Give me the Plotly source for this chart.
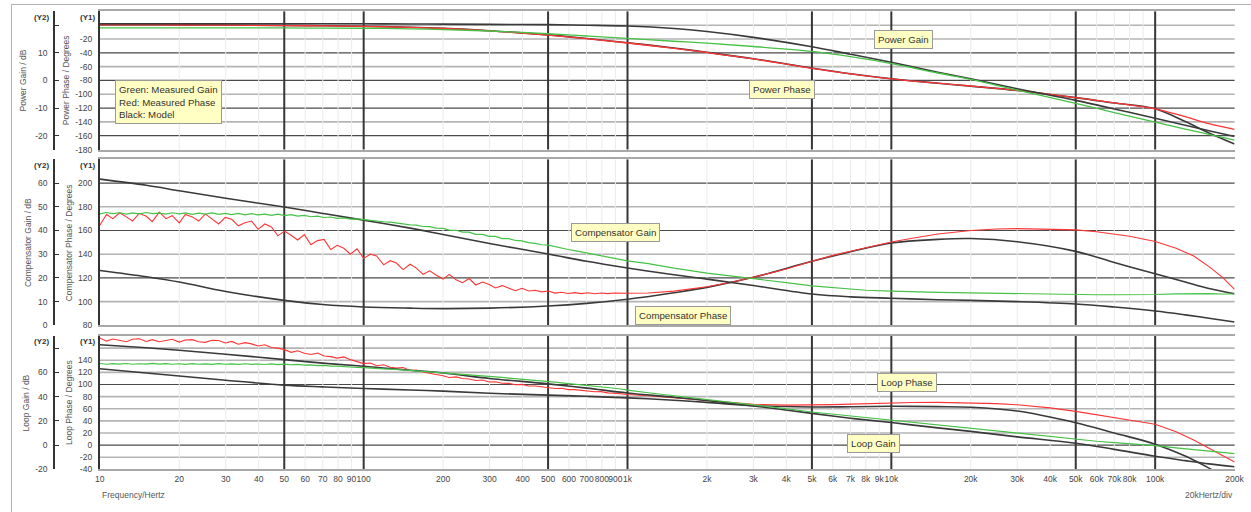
import math
import plotly.graph_objects as go

W, H = 1251, 512
FONT = "Liberation Sans, Arial, sans-serif"

# ---------------------------------------------------------------- data
# dense sweep points of the measurement (Hz), 10 Hz .. 1 kHz
FREQ_LO = [10, 10.6, 11.2, 11.9, 12.6, 13.3, 14.1, 15.0, 15.8, 16.8,
           17.8, 18.8, 20.0, 21.1, 22.4, 23.7, 25.1, 26.6, 28.2, 29.9,
           31.6, 33.5, 35.5, 37.6, 39.8, 42.2, 44.7, 47.3, 50.1, 53.1,
           56.2, 59.6, 63.1, 66.8, 70.8, 75.0, 79.4, 84.1, 89.1, 94.4,
           100, 106, 112, 119, 126, 133, 141, 150, 158, 168,
           178, 188, 200, 211, 224, 237, 251, 266, 282, 299,
           316, 335, 355, 376, 398, 422, 447, 473, 501, 531,
           562, 596, 631, 668, 708, 750, 794, 841, 891, 944,
           1000]
# sweep points above 1 kHz (Hz)
FREQ_HI = [1200, 1500, 2000, 2500, 3000, 4000, 5000, 6000, 7000, 8000,
           10000, 12000, 15000, 20000, 25000, 30000, 40000, 50000, 60000,
           70000, 80000, 100000, 120000, 140000, 160000, 180000, 200000]
# frequencies of the model curves and of the power-stage measurement (Hz)
MODEL_FREQ = [10, 15, 20, 30, 50, 70, 100, 150, 200, 300, 500, 700, 1000,
              1500, 2000, 3000, 5000, 7000, 10000, 15000, 20000, 30000,
              50000, 70000, 100000, 130000, 160000, 200000]

# Power stage (dB / degrees)
POWER_GAIN_MEAS = [19.0, 19.0, 19.0, 19.0, 19.0, 18.95, 18.9, 18.7, 18.4, 17.9,
                   16.9, 16.1, 15.2, 14.2, 13.5, 12.3, 10.5, 8.6, 6.1, 2.7,
                   0.4, -3.5, -8.3, -11.6, -15.1, -17.6, -19.5, -21.6]
POWER_GAIN_MODEL = [20.5, 20.5, 20.5, 20.5, 20.5, 20.5, 20.5, 20.45, 20.4, 20.3,
                    20.2, 20.0, 19.7, 18.8, 17.7, 15.6, 12.2, 9.5, 6.6, 3.0,
                    0.6, -3.0, -7.2, -10.3, -13.7, -16.2, -18.2, -20.3]
POWER_PHASE_MEAS = [0.6, 0.5, 0.3, 0.0, -0.5, -1.0, -1.7, -3.2, -4.8, -8.2,
                    -14.3, -19.5, -25.8, -33.5, -39.5, -48.8, -62.5, -70.5, -77.7, -84.0,
                    -88.0, -94.5, -105.0, -112.5, -121.0, -132.5, -142.5, -150.7]
POWER_PHASE_MODEL = [0.8, 0.7, 0.5, 0.2, -0.3, -0.8, -1.5, -3.0, -4.6, -8.0,
                     -14.0, -19.2, -25.3, -33.0, -39.2, -48.5, -62.0, -70.3, -77.5, -84.0,
                     -88.2, -94.5, -104.8, -112.6, -121.0, -139.5, -156.0, -172.0]

# Compensator (dB / degrees)
COMP_GAIN_MEAS_LO = [47.0, 47.6, 47.1, 47.5, 46.9, 47.4, 47.0, 47.6, 47.1, 47.3,
                     46.9, 47.5, 47.0, 47.4, 46.8, 47.3, 46.9, 47.4, 46.8, 47.2,
                     46.7, 47.2, 46.6, 47.1, 46.6, 46.9, 46.4, 46.9, 46.3, 46.7,
                     46.1, 46.4, 45.8, 46.1, 45.5, 45.7, 45.1, 45.3, 44.8, 44.9,
                     44.6, 44.2, 44.1, 43.7, 43.5, 43.1, 42.9, 42.4, 42.3, 41.7,
                     41.6, 41.0, 40.9, 40.2, 40.1, 39.3, 39.3, 38.4, 38.4, 37.5,
                     37.5, 36.6, 36.6, 35.8, 35.6, 34.9, 34.6, 34.0, 33.8, 33.1,
                     32.6, 32.0, 31.5, 31.0, 30.5, 29.9, 29.3, 28.8, 28.2, 27.7,
                     27.2]
COMP_GAIN_MEAS_HI = [26.0, 24.1, 22.0, 20.8, 19.7, 18.0, 16.6, 15.8, 15.2, 14.8,
                     14.4, 14.1, 13.9, 13.7, 13.5, 13.4, 13.2, 13.0, 12.9,
                     12.9, 12.9, 13.0, 13.3, 13.5, 13.4, 13.2, 13.2]
COMP_PHASE_MEAS_LO = [164.5, 173.5, 170.0, 175.0, 171.5, 168.0, 174.5, 172.0, 167.5, 175.5,
                      170.0, 172.5, 166.5, 173.5, 171.5, 168.0, 174.0, 169.5, 165.5, 171.0,
                      169.5, 164.0, 166.5, 168.0, 161.0, 165.5, 163.0, 155.5, 159.5, 156.0,
                      152.0, 156.5, 148.0, 151.5, 152.5, 144.0, 147.5, 145.0, 140.0, 144.5,
                      136.5, 140.0, 138.5, 131.0, 134.5, 132.5, 127.0, 131.5, 128.5, 123.0,
                      126.0, 122.5, 119.0, 123.0, 118.5, 116.0, 119.5, 114.0, 116.5, 114.5,
                      111.5, 113.5, 111.0, 109.2, 111.2, 108.9, 109.6, 108.2, 108.9, 107.2,
                      107.9, 106.8, 107.6, 106.7, 107.4, 106.6, 107.3, 106.7, 107.2, 106.9,
                      107.1]
COMP_PHASE_MEAS_HI = [107.3, 108.8, 112.5, 116.5, 120.5, 127.5, 134.0, 139.0, 142.5, 145.5,
                      150.3, 153.5, 157.0, 160.0, 161.3, 161.6, 161.3, 160.5, 159.0,
                      157.2, 155.2, 150.8, 145.0, 138.5, 129.5, 120.5, 110.3]
COMP_GAIN_MODEL = [61.7, 59.1, 56.8, 53.6, 49.9, 47.2, 44.4, 41.0, 38.3, 34.5,
                   30.1, 27.0, 24.2, 21.3, 19.5, 16.8, 13.2, 12.0, 11.4, 10.8,
                   10.5, 10.0, 9.0, 7.7, 6.0, 4.4, 3.0, 1.4]
COMP_PHASE_MODEL = [126.3, 121.0, 116.5, 108.5, 101.0, 97.5, 95.5, 94.5, 94.1, 94.5,
                    96.3, 98.5, 102.0, 107.5, 112.0, 120.5, 134.0, 142.0, 149.4, 152.5,
                    153.2, 150.5, 142.4, 133.0, 123.5, 116.5, 111.0, 106.6]

# Loop (dB / degrees)
LOOP_GAIN_MEAS_LO = [67.3, 66.7, 67.2, 66.8, 67.3, 66.7, 67.1, 66.8, 67.4, 66.8,
                     67.2, 66.7, 67.1, 66.6, 67.2, 66.7, 67.0, 66.6, 67.2, 66.7,
                     67.0, 66.6, 67.1, 66.6, 66.9, 66.5, 67.0, 66.4, 66.8, 66.3,
                     66.6, 66.0, 66.2, 65.6, 65.7, 65.1, 65.2, 64.6, 64.6, 64.0,
                     63.9, 63.4, 63.4, 62.8, 62.7, 62.2, 62.0, 61.6, 61.3, 60.9,
                     60.5, 60.1, 59.6, 59.3, 58.8, 58.4, 57.9, 57.6, 57.1, 56.7,
                     56.2, 55.8, 55.3, 54.9, 54.4, 54.0, 53.5, 53.0, 52.4, 52.0,
                     51.4, 50.9, 50.4, 49.9, 49.3, 48.7, 48.1, 47.5, 46.9, 46.3,
                     45.4]
LOOP_GAIN_MEAS_HI = [43.2, 40.8, 37.9, 35.4, 33.3, 30.0, 27.3, 25.5, 24.0, 22.8,
                     20.5, 18.7, 16.5, 13.5, 11.3, 9.5, 6.7, 4.6, 3.2,
                     2.1, 1.2, -0.4, -2.2, -3.7, -4.9, -6.0, -7.0]
LOOP_PHASE_MEAS_LO = [176.5, 171.5, 175.0, 173.0, 170.5, 174.5, 175.5, 171.0, 174.0, 170.5,
                      172.0, 174.5, 170.0, 173.5, 174.0, 170.5, 169.5, 173.0, 172.5, 168.5,
                      171.0, 166.5, 169.0, 167.0, 163.5, 165.5, 161.0, 160.0, 157.5, 153.0,
                      155.5, 151.5, 149.5, 152.0, 147.0, 146.0, 143.5, 145.5, 141.0, 137.5,
                      134.5, 135.5, 131.0, 132.5, 128.5, 127.0, 128.0, 123.0, 124.0, 120.5,
                      118.0, 116.5, 114.5, 111.5, 112.5, 110.0, 109.0, 106.5, 107.5, 104.0,
                      104.5, 102.0, 101.8, 99.5, 100.2, 97.6, 97.4, 95.9, 95.2, 93.5,
                      93.8, 91.6, 91.5, 90.2, 89.6, 88.0, 88.2, 86.2, 85.8, 84.6,
                      83.5]
LOOP_PHASE_MEAS_HI = [81.5, 78.0, 73.5, 70.0, 67.5, 66.0, 66.1, 66.8, 67.6, 68.5,
                      70.0, 70.4, 70.5, 70.0, 68.5, 66.5, 61.5, 55.6, 50.0,
                      45.5, 41.5, 34.5, 22.0, 8.6, -5.0, -17.0, -28.0]
LOOP_GAIN_MODEL = [82.8, 80.3, 78.2, 75.0, 70.5, 67.6, 65.0, 61.8, 59.5, 55.0,
                   50.5, 47.0, 43.0, 39.5, 36.8, 32.3, 26.2, 22.2, 18.6, 14.2,
                   11.3, 6.8, 1.6, -3.5, -9.2, -12.8, -15.5, -17.9]
LOOP_PHASE_MODEL = [126.0, 119.0, 114.0, 107.0, 99.0, 96.0, 93.4, 91.0, 89.0, 85.5,
                    82.5, 80.5, 78.0, 74.0, 70.5, 65.0, 63.0, 63.3, 64.0, 63.5,
                    62.5, 56.3, 37.0, 20.0, 1.6, -18.0, -38.0, -62.0]

# frequency axis labels
TICK_FREQ = [10, 20, 30, 40, 50, 60, 70, 80, 90, 100, 200, 300, 400, 500, 600,
             700, 800, 900, 1000, 2000, 3000, 4000, 5000, 6000, 7000, 8000, 9000,
             10000, 20000, 30000, 40000, 50000, 60000, 70000, 80000, 90000,
             100000, 200000]
TICK_TEXT = ["10", "20", "30", "40", "50", "60", "70", "80", "90", "100", "200",
             "300", "400", "500", "600", "700", "800", "900", "1k", "2k", "3k",
             "4k", "5k", "6k", "7k", "8k", "9k", "10k", "20k", "30k", "40k", "50k",
             "60k", "70k", "80k", "", "100k", "200k"]
MAJOR_FREQ = [50, 100, 500, 1000, 5000, 10000, 50000, 100000]

# ---------------------------------------------------------------- styling
GREEN = "#46c246"
RED = "#ff3434"
BLACK = "#3a3a3a"
GRID_LIGHT = "#b4b4b4"
GRID_DARK = "#4a4a4a"
GRID_MINOR = "#ebebeb"
GRID_MAJOR = "#363636"
TEXT = "#444444"
BOX_BG = "#ffffc4"


def px(x):
    return x / W


def py(y):
    return 1 - y / H


X_DOMAIN = [px(96), px(1244.5)]
X_RANGE = [1, math.log10(200000)]
Y2_POS = px(49.5)


def x_paper(f):
    """Paper position of frequency f on the shared log frequency axis."""
    t = (math.log10(f) - X_RANGE[0]) / (X_RANGE[1] - X_RANGE[0])
    return X_DOMAIN[0] + t * (X_DOMAIN[1] - X_DOMAIN[0])


PANELS = [
    dict(top=11.5, bottom=151.0,
         y1_range=[-180, 20], y1_hidden=[0, 20],
         y2_range=[-25, 25], y2_ticks=[-20, -10, 0, 10, 20], y2_hidden=[20],
         dark=[-160, -120, -80, -40],
         gain_title="Power Gain / dB", phase_title="Power Phase / Degrees",
         gain_title_x=18.3, phase_title_x=62.5),
    dict(top=161.0, bottom=328.5,
         y1_range=[80, 220], y1_hidden=[220],
         y2_range=[0, 70], y2_ticks=[0, 10, 20, 30, 40, 50, 60, 70], y2_hidden=[70],
         dark=[120, 160, 200],
         gain_title="Compensator Gain / dB", phase_title="Compensator Phase / Degrees",
         gain_title_x=24.0, phase_title_x=64.7),
    dict(top=339.3, bottom=474.0,
         y1_range=[-40, 180], y1_hidden=[160, 180],
         y2_range=[-20, 90], y2_ticks=[-20, 0, 20, 40, 60, 80], y2_hidden=[80],
         dark=[0, 100],
         gain_title="Loop Gain / dB", phase_title="Loop Phase / Degrees",
         gain_title_x=21.0, phase_title_x=64.0),
]

fig = go.Figure()


def line(x, y, xa, ya, color, width, shape="linear"):
    fig.add_trace(go.Scatter(x=x, y=y, xaxis=xa, yaxis=ya, mode="lines",
                             line=dict(color=color, width=width, shape=shape),
                             hoverinfo="skip", showlegend=False))


MEAS_FREQ = FREQ_LO + FREQ_HI

# panel 1: power stage
line(MODEL_FREQ, POWER_PHASE_MODEL, "x", "y", BLACK, 1.6, "spline")
line(MODEL_FREQ, POWER_PHASE_MEAS, "x", "y", RED, 1.3, "spline")
line(MODEL_FREQ, POWER_GAIN_MODEL, "x", "y2", BLACK, 1.6, "spline")
line(MODEL_FREQ, POWER_GAIN_MEAS, "x", "y2", GREEN, 1.3, "spline")

# panel 2: compensator
line(MODEL_FREQ, COMP_PHASE_MODEL, "x2", "y3", BLACK, 1.6, "spline")
line(MEAS_FREQ, COMP_PHASE_MEAS_LO + COMP_PHASE_MEAS_HI, "x2", "y3", RED, 1.1)
line(MODEL_FREQ, COMP_GAIN_MODEL, "x2", "y4", BLACK, 1.6, "spline")
line(MEAS_FREQ, COMP_GAIN_MEAS_LO + COMP_GAIN_MEAS_HI, "x2", "y4", GREEN, 1.2)

# panel 3: loop
line(MODEL_FREQ, LOOP_PHASE_MODEL, "x3", "y5", BLACK, 1.6, "spline")
line(MEAS_FREQ, LOOP_PHASE_MEAS_LO + LOOP_PHASE_MEAS_HI, "x3", "y5", RED, 1.1)
line(MODEL_FREQ, LOOP_GAIN_MODEL, "x3", "y6", BLACK, 1.6, "spline")
line(MEAS_FREQ, LOOP_GAIN_MEAS_LO + LOOP_GAIN_MEAS_HI, "x3", "y6", GREEN, 1.2)

layout = dict(width=W, height=H, margin=dict(l=0, r=0, t=0, b=0),
              paper_bgcolor="white", plot_bgcolor="rgba(0,0,0,0)", showlegend=False,
              font=dict(family=FONT, size=9, color=TEXT))
shapes = []
annotations = []
tickfont = dict(family=FONT, size=8.5, color=TEXT)

# outer frame
shapes.append(dict(type="rect", xref="paper", yref="paper",
                   x0=px(6.5), x1=1.02, y0=-0.02, y1=py(4.5), layer="below",
                   line=dict(color="#b0b0b0", width=1)))

for i, p in enumerate(PANELS):
    n = i + 1
    xname = "xaxis" if n == 1 else f"xaxis{n}"
    xref = "x" if n == 1 else f"x{n}"
    y1n, y2n = 2 * n - 1, 2 * n
    y1name = "yaxis" if y1n == 1 else f"yaxis{y1n}"
    y1ref = "y" if y1n == 1 else f"y{y1n}"
    y2name = f"yaxis{y2n}"
    dom = [py(p["bottom"]), py(p["top"])]
    y_top, y_bot = py(p["top"]), py(p["bottom"])

    layout[xname] = dict(
        type="log", range=X_RANGE, domain=X_DOMAIN, anchor=y1ref,
        tickvals=TICK_FREQ, ticktext=TICK_TEXT, showticklabels=(n == 3),
        tickfont=tickfont, ticks="", tickangle=0, ticklabelstandoff=1,
        ticklabeloverflow="allow",
        showgrid=False, zeroline=False,
        showline=True, mirror=True, linecolor="#a8a8a8", linewidth=1.5)

    y1vals = list(range(p["y1_range"][0], p["y1_range"][1] + 1, 20))
    layout[y1name] = dict(
        domain=dom, range=p["y1_range"], anchor=xref,
        tickvals=y1vals,
        ticktext=["" if v in p["y1_hidden"] else str(v) for v in y1vals],
        tickfont=tickfont, ticks="", ticklabelstandoff=4,
        showgrid=False, zeroline=False,
        showline=True, linecolor="#333333", linewidth=2)

    layout[y2name] = dict(
        domain=dom, range=p["y2_range"], overlaying=y1ref, anchor="free",
        position=Y2_POS, side="left",
        tickvals=p["y2_ticks"],
        ticktext=["" if v in p["y2_hidden"] else str(v) for v in p["y2_ticks"]],
        tickfont=tickfont, ticks="inside", ticklen=4, tickcolor="#333333",
        ticklabelstandoff=4,
        showgrid=False, zeroline=False,
        showline=True, linecolor="#333333", linewidth=1.5)

    # horizontal rules at the phase ticks (light first, dark on top)
    inner = [v for v in y1vals if p["y1_range"][0] < v < p["y1_range"][1]]
    for dark in (False, True):
        for v in inner:
            if (v in p["dark"]) != dark:
                continue
            shapes.append(dict(type="line", xref="paper", yref=y1ref,
                               x0=X_DOMAIN[0], x1=X_DOMAIN[1], y0=v, y1=v,
                               layer="below",
                               line=dict(color=GRID_DARK if dark else GRID_LIGHT,
                                         width=1.2 if dark else 1.6)))
    # vertical rules at the frequency ticks
    for dark in (False, True):
        for f in TICK_FREQ[1:-1]:
            if (f in MAJOR_FREQ) != dark:
                continue
            xv = x_paper(f)
            shapes.append(dict(type="line", xref="paper", yref="paper",
                               x0=xv, x1=xv, y0=y_bot, y1=y_top, layer="below",
                               line=dict(color=GRID_MAJOR if dark else GRID_MINOR,
                                         width=2 if dark else 1)))

    ytag = p["top"] + 6
    for label, xc in (("(Y2)", 37), ("(Y1)", 84)):
        annotations.append(dict(text=f"<b>{label}</b>", xref="paper", yref="paper",
                                x=px(xc), y=py(ytag), showarrow=False,
                                xanchor="center", yanchor="middle",
                                font=dict(family=FONT, size=8, color="#333333")))
    yc = (p["top"] + p["bottom"]) / 2
    for label, xc in ((p["gain_title"], p["gain_title_x"]),
                      (p["phase_title"], p["phase_title_x"])):
        annotations.append(dict(text=label, xref="paper", yref="paper",
                                x=px(xc), y=py(yc), textangle=-90, showarrow=False,
                                xanchor="center", yanchor="middle",
                                font=dict(family=FONT, size=8.5, color="#555555")))


def box(text, xc, yc, align="center", xanchor="center"):
    annotations.append(dict(text=text, xref="paper", yref="paper",
                            x=px(xc), y=py(yc), showarrow=False, align=align,
                            xanchor=xanchor, yanchor="middle",
                            bgcolor=BOX_BG, bordercolor="#9a9a9a", borderwidth=1,
                            borderpad=3,
                            font=dict(family=FONT, size=9.7, color="#333333")))


box("Green: Measured Gain<br>Red: Measured Phase<br>Black: Model", 111, 102.7,
    align="left", xanchor="left")
box("Power Gain", 909, 40)
box("Power Phase", 786, 90.5)
box("Compensator Gain", 617.5, 234.3)
box("Compensator Phase", 686.5, 318.3)
box("Loop Phase", 912.5, 386.7)
box("Loop Gain", 879.5, 447.5)

annotations.append(dict(text="Frequency/Hertz", xref="paper", yref="paper",
                        x=px(96), y=py(500), showarrow=False,
                        xanchor="left", yanchor="middle",
                        font=dict(family=FONT, size=8.5, color="#555555")))
annotations.append(dict(text="20kHertz/div", xref="paper", yref="paper",
                        x=px(1245), y=py(500), showarrow=False,
                        xanchor="right", yanchor="middle",
                        font=dict(family=FONT, size=8.5, color="#555555")))

layout["shapes"] = shapes
layout["annotations"] = annotations
fig.update_layout(**layout)
fig.write_html("out.html")
